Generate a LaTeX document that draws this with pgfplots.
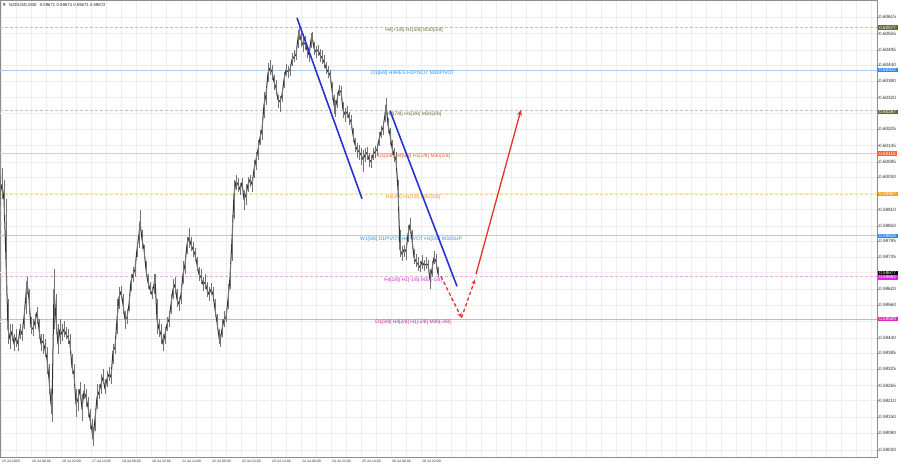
\documentclass[border=0pt]{standalone}
\usepackage{pgfplots}
\pgfplotsset{compat=1.18}
\usepackage{pgfplotstable}
\usepackage{fontspec}
\setmainfont{Liberation Sans}
\usetikzlibrary{arrows.meta}

\definecolor{gridc}{RGB}{238,238,238}
\definecolor{lvlOlive}{RGB}{200,195,165}
\definecolor{txtOlive}{RGB}{110,110,55}
\definecolor{boxOlive}{RGB}{95,105,50}
\definecolor{lvlBlue}{RGB}{170,205,238}
\definecolor{txtBlue}{RGB}{50,140,220}
\definecolor{boxBlue}{RGB}{40,140,245}
\definecolor{lvlGray}{RGB}{195,195,180}
\definecolor{lvlSalmon}{RGB}{242,198,178}
\definecolor{txtOrRed}{RGB}{230,90,40}
\definecolor{boxOrRed}{RGB}{250,100,50}
\definecolor{lvlOrange}{RGB}{246,212,155}
\definecolor{txtOrange}{RGB}{240,150,30}
\definecolor{boxOrange}{RGB}{250,160,30}
\definecolor{lvlBlue2}{RGB}{175,205,236}
\definecolor{lvlMag}{RGB}{228,170,228}
\definecolor{txtMag}{RGB}{210,40,210}
\definecolor{boxMag}{RGB}{235,30,235}
\definecolor{lvlPurp}{RGB}{205,180,215}
\definecolor{txtPurp}{RGB}{180,40,150}
\definecolor{boxPurp}{RGB}{220,40,190}
\definecolor{trendBlue}{RGB}{40,50,210}
\definecolor{arrRed}{RGB}{230,50,45}
\definecolor{candle}{RGB}{50,50,50}
\definecolor{wick}{RGB}{115,115,115}

\pgfplotstableread{
x c h l
0 0.59965 0.60038 0.59928
2 0.60002 0.60064 0.59947
4 0.59947 0.60020 0.59892
6 0.59727 0.59947 0.59618
8 0.59472 0.59581 0.59417
10 0.59435 0.59490 0.59398
12 0.59464 0.59490 0.59428
14 0.59417 0.59453 0.59391
16 0.59442 0.59472 0.59406
18 0.59417 0.59442 0.59391
20 0.59472 0.59490 0.59435
22 0.59453 0.59479 0.59428
24 0.59515 0.59545 0.59472
26 0.59599 0.59636 0.59526
27 0.59647 0.59662 0.59599
29 0.59581 0.59618 0.59526
31 0.59479 0.59515 0.59453
33 0.59472 0.59508 0.59446
35 0.59501 0.59526 0.59472
37 0.59534 0.59552 0.59490
39 0.59472 0.59508 0.59435
41 0.59417 0.59453 0.59391
43 0.59428 0.59453 0.59380
45 0.59398 0.59435 0.59369
47 0.59362 0.59406 0.59307
49 0.59289 0.59344 0.59234
51 0.59197 0.59252 0.59161
52 0.59179 0.59234 0.59132
54 0.59618 0.59691 0.59472
56 0.59508 0.59599 0.59453
58 0.59417 0.59490 0.59380
60 0.59472 0.59508 0.59417
62 0.59453 0.59490 0.59428
64 0.59472 0.59501 0.59442
66 0.59453 0.59479 0.59435
68 0.59442 0.59472 0.59417
70 0.59417 0.59453 0.59391
72 0.59333 0.59380 0.59307
74 0.59307 0.59344 0.59270
76 0.59197 0.59252 0.59150
78 0.59216 0.59252 0.59172
80 0.59252 0.59278 0.59216
82 0.59179 0.59234 0.59135
84 0.59245 0.59270 0.59216
86 0.59223 0.59252 0.59186
88 0.59186 0.59223 0.59150
90 0.59142 0.59179 0.59106
92 0.59099 0.59142 0.59069
93 0.59069 0.59113 0.59044
95 0.59142 0.59179 0.59099
97 0.59223 0.59270 0.59179
99 0.59241 0.59270 0.59216
101 0.59270 0.59307 0.59234
103 0.59296 0.59325 0.59270
105 0.59252 0.59289 0.59234
107 0.59289 0.59318 0.59260
109 0.59307 0.59333 0.59281
111 0.59296 0.59325 0.59270
113 0.59391 0.59417 0.59344
115 0.59406 0.59435 0.59380
117 0.59508 0.59581 0.59453
119 0.59589 0.59625 0.59545
121 0.59610 0.59629 0.59581
123 0.59563 0.59599 0.59526
125 0.59508 0.59537 0.59472
127 0.59515 0.59545 0.59490
129 0.59563 0.59592 0.59537
131 0.59647 0.59673 0.59610
133 0.59673 0.59698 0.59643
135 0.59691 0.59720 0.59662
137 0.59764 0.59793 0.59735
139 0.59819 0.59855 0.59771
140 0.59866 0.59910 0.59830
142 0.59801 0.59837 0.59764
144 0.59764 0.59782 0.59735
146 0.59691 0.59720 0.59662
148 0.59643 0.59673 0.59618
150 0.59618 0.59643 0.59599
152 0.59599 0.59625 0.59581
154 0.59636 0.59673 0.59599
155 0.59662 0.59673 0.59636
157 0.59508 0.59581 0.59453
159 0.59472 0.59508 0.59442
161 0.59453 0.59490 0.59417
163 0.59417 0.59453 0.59391
165 0.59453 0.59479 0.59417
167 0.59490 0.59515 0.59464
169 0.59508 0.59537 0.59479
171 0.59563 0.59599 0.59526
173 0.59618 0.59654 0.59581
175 0.59636 0.59662 0.59599
177 0.59581 0.59618 0.59552
179 0.59563 0.59589 0.59537
181 0.59599 0.59636 0.59563
183 0.59673 0.59720 0.59636
185 0.59709 0.59735 0.59673
187 0.59782 0.59808 0.59746
189 0.59808 0.59844 0.59771
191 0.59782 0.59808 0.59757
193 0.59764 0.59790 0.59735
195 0.59746 0.59771 0.59720
197 0.59709 0.59735 0.59684
199 0.59673 0.59698 0.59647
201 0.59662 0.59691 0.59636
203 0.59636 0.59662 0.59610
205 0.59643 0.59673 0.59618
207 0.59618 0.59643 0.59589
209 0.59599 0.59625 0.59574
211 0.59618 0.59640 0.59596
213 0.59599 0.59625 0.59581
215 0.59545 0.59581 0.59515
217 0.59497 0.59526 0.59472
219 0.59442 0.59472 0.59417
220 0.59424 0.59453 0.59406
222 0.59472 0.59508 0.59442
224 0.59508 0.59537 0.59479
226 0.59515 0.59545 0.59497
228 0.59581 0.59636 0.59545
230 0.59662 0.59709 0.59618
232 0.59801 0.59892 0.59720
234 0.59965 0.60020 0.59874
236 0.60013 0.60035 0.59983
238 0.60002 0.60027 0.59976
240 0.59983 0.60009 0.59965
242 0.60009 0.60027 0.59983
244 0.59947 0.59983 0.59910
246 0.59965 0.60002 0.59928
248 0.60002 0.60031 0.59976
250 0.60020 0.60038 0.59991
252 0.60002 0.60027 0.59976
254 0.60056 0.60093 0.60027
256 0.60093 0.60122 0.60056
258 0.60130 0.60166 0.60093
260 0.60173 0.60203 0.60148
262 0.60203 0.60239 0.60166
264 0.60294 0.60342 0.60247
266 0.60331 0.60356 0.60294
268 0.60411 0.60448 0.60378
270 0.60429 0.60459 0.60404
272 0.60415 0.60440 0.60385
274 0.60378 0.60404 0.60349
276 0.60356 0.60385 0.60331
278 0.60312 0.60331 0.60283
280 0.60305 0.60327 0.60268
282 0.60331 0.60356 0.60305
284 0.60385 0.60415 0.60356
286 0.60422 0.60444 0.60400
288 0.60415 0.60437 0.60393
290 0.60422 0.60444 0.60400
292 0.60459 0.60484 0.60437
294 0.60470 0.60495 0.60451
296 0.60477 0.60502 0.60459
298 0.60539 0.60568 0.60502
299 0.60561 0.60579 0.60532
301 0.60532 0.60557 0.60506
303 0.60513 0.60539 0.60488
305 0.60521 0.60546 0.60495
307 0.60495 0.60513 0.60466
309 0.60477 0.60502 0.60451
311 0.60532 0.60557 0.60502
312 0.60546 0.60561 0.60524
314 0.60502 0.60524 0.60477
316 0.60488 0.60510 0.60466
318 0.60495 0.60513 0.60473
320 0.60477 0.60499 0.60451
322 0.60466 0.60495 0.60444
324 0.60451 0.60477 0.60429
326 0.60429 0.60451 0.60407
328 0.60415 0.60437 0.60393
330 0.60404 0.60422 0.60378
332 0.60349 0.60378 0.60312
334 0.60294 0.60331 0.60261
335 0.60276 0.60312 0.60250
337 0.60312 0.60342 0.60283
339 0.60349 0.60367 0.60327
341 0.60342 0.60364 0.60320
343 0.60276 0.60305 0.60247
345 0.60258 0.60283 0.60232
347 0.60268 0.60290 0.60247
349 0.60247 0.60268 0.60221
351 0.60232 0.60258 0.60210
353 0.60184 0.60210 0.60159
355 0.60148 0.60173 0.60122
357 0.60130 0.60155 0.60100
359 0.60122 0.60148 0.60093
361 0.60111 0.60137 0.60075
363 0.60093 0.60130 0.60046
365 0.60111 0.60137 0.60086
367 0.60119 0.60141 0.60093
369 0.60093 0.60119 0.60067
371 0.60086 0.60111 0.60064
373 0.60111 0.60137 0.60093
375 0.60122 0.60144 0.60100
377 0.60130 0.60151 0.60108
379 0.60166 0.60195 0.60144
381 0.60195 0.60217 0.60173
383 0.60210 0.60232 0.60184
385 0.60258 0.60294 0.60232
386 0.60294 0.60320 0.60258
388 0.60221 0.60247 0.60192
390 0.60184 0.60210 0.60148
392 0.60137 0.60166 0.60111
394 0.60111 0.60137 0.60086
396 0.60093 0.60122 0.60064
398 0.59983 0.60020 0.59921
400 0.59764 0.59837 0.59735
402 0.59746 0.59775 0.59720
404 0.59764 0.59782 0.59735
406 0.59757 0.59779 0.59727
408 0.59819 0.59855 0.59790
410 0.59855 0.59881 0.59819
412 0.59801 0.59837 0.59764
414 0.59735 0.59764 0.59709
416 0.59720 0.59746 0.59698
418 0.59709 0.59735 0.59684
420 0.59698 0.59720 0.59680
422 0.59720 0.59742 0.59691
424 0.59706 0.59727 0.59684
426 0.59709 0.59735 0.59691
428 0.59709 0.59727 0.59684
430 0.59654 0.59691 0.59618
432 0.59691 0.59720 0.59662
434 0.59735 0.59757 0.59709
436 0.59720 0.59746 0.59691
438 0.59673 0.59698 0.59662
}\candles

\newcommand{\lvlfont}{\fontsize{5}{6}\selectfont}
\newcommand{\boxfont}{\fontsize{4.6}{5}\selectfont}

\begin{document}
\begin{tikzpicture}
\path[use as bounding box] (0pt,-11pt) rectangle (899pt,457pt);
\begin{axis}[
  at={(0pt,0pt)}, anchor=south west,
  width=877pt, height=457pt, scale only axis,
  xmin=0, xmax=877, ymin=0.590035, ymax=0.60678,
  clip=false,
  axis line style={draw=black!45, line width=0.6pt},
  ytick pos=right, yticklabel pos=right,
  xtick pos=bottom,
  tick align=outside,
  major tick length=1.5pt, minor tick length=0pt,
  tick style={black!45, line width=0.4pt},
  ytick={0.60615,0.60555,0.60495,0.60440,0.60380,0.60320,0.60205,0.60145,0.60085,0.60030,0.59910,0.59850,0.59795,0.59735,0.59620,0.59560,0.59440,0.59385,0.59325,0.59265,0.59210,0.59150,0.59090,0.59030},
  yticklabels={0.60615,0.60555,0.60495,0.60440,0.60380,0.60320,0.60205,0.60145,0.60085,0.60030,0.59910,0.59850,0.59795,0.59735,0.59620,0.59560,0.59440,0.59385,0.59325,0.59265,0.59210,0.59150,0.59090,0.59030},
  extra y ticks={0.60265,0.59970,0.59680,0.59500},
  extra y tick labels={},
  extra y tick style={grid=major, major tick length=0pt},
  yticklabel style={font=\boxfont, text=black!85, anchor=west, inner sep=0.5pt},
  xtick={1.5,31.5,...,421.5},
  xticklabels={15 Jul 2025,16 Jul 06:00,16 Jul 22:00,17 Jul 14:00,18 Jul 06:00,18 Jul 22:00,21 Jul 14:00,22 Jul 06:00,22 Jul 22:00,23 Jul 14:00,24 Jul 06:00,24 Jul 22:00,25 Jul 14:00,28 Jul 06:00,28 Jul 22:00},
  xticklabel style={font=\fontsize{3.4}{4}\selectfont, text=black!85, anchor=north west, inner sep=0.5pt, yshift=-0.5pt},
  minor xtick={16.5,46.5,...,436.5,451.5,466.5,...,871.5},
  grid=both,
  major grid style={draw=gridc, line width=0.4pt},
  minor grid style={draw=gridc, line width=0.4pt},
]
% level lines
\addplot[lvlOlive, line width=0.6pt, dash pattern=on 3pt off 2pt] coordinates {(0,0.60578) (877,0.60578)};
\addplot[lvlBlue, line width=0.6pt] coordinates {(0,0.60422) (877,0.60422)};
\addplot[lvlGray, line width=0.6pt, dash pattern=on 3pt off 2pt] coordinates {(0,0.60272) (877,0.60272)};
\addplot[lvlSalmon, line width=0.6pt] coordinates {(0,0.60116) (877,0.60116)};
\addplot[lvlOrange, line width=0.6pt, dash pattern=on 3pt off 2pt] coordinates {(0,0.59967) (877,0.59967)};
\addplot[lvlBlue2, line width=0.6pt] coordinates {(0,0.59814) (877,0.59814)};
\addplot[lvlMag, line width=0.6pt, dash pattern=on 3pt off 2pt] coordinates {(0,0.59664) (877,0.59664)};
\addplot[lvlPurp, line width=0.6pt] coordinates {(0,0.59509) (877,0.59509)};

% level texts
\node[anchor=north, inner sep=0.6pt, text=txtOlive, font=\lvlfont] at (axis cs:414,0.60578) {H4[+1/8] H1[5/8] M30[5/8]};
\node[anchor=north, inner sep=0.6pt, text=txtBlue, font=\lvlfont] at (axis cs:413,0.60422) {D1[6/8] H4RES H1PIVOT M30PIVOT};
\node[anchor=north, inner sep=0.6pt, text=txtOlive, font=\lvlfont] at (axis cs:414,0.60272) {H4[7/8] H1[3/8] M30[3/8]};
\node[anchor=north, inner sep=0.6pt, text=txtOrRed, font=\lvlfont] at (axis cs:414,0.60116) {D1[5/8] H4[6/8] H1[2/8] M30[2/8]};
\node[anchor=north, inner sep=0.6pt, text=txtOrange, font=\lvlfont] at (axis cs:413,0.59967) {H4[5/8] H1[1/8] M30[1/8]};
\node[anchor=north, inner sep=0.6pt, text=txtBlue, font=\lvlfont] at (axis cs:411,0.59814) {W1[5/8] D1PIVOT H4PIVOT H1[0/8] M30SUP};
\node[anchor=north, inner sep=0.6pt, text=txtMag, font=\lvlfont] at (axis cs:413,0.59664) {H4[3/8] H1[-1/8] M30[-1/8]};
\node[anchor=north, inner sep=0.6pt, text=txtPurp, font=\lvlfont] at (axis cs:413,0.59509) {D1[3/8] H4[2/8] H1[-2/8] M30[-2/8]};

% price series (high-low ranges and closes)
\addplot[candle, line width=1pt, mark=none, line join=round,
  error bars/.cd, y dir=both, y explicit, error mark=none,
  error bar style={wick, line width=0.8pt}]
  table[x=x, y=c, y error plus expr=\thisrow{h}-\thisrow{c}, y error minus expr=\thisrow{c}-\thisrow{l}] {\candles};

% trend lines
\addplot[trendBlue, line width=1.6pt] coordinates {(297,0.60612) (362,0.59950)};
\addplot[trendBlue, line width=1.6pt] coordinates {(390,0.60272) (457,0.59629)};

% projected path
\addplot[arrRed, line width=1.3pt, dash pattern=on 3.5pt off 2.5pt, -{Stealth[length=5pt,width=4.5pt]}] coordinates {(441,0.59665) (461.5,0.59514)};
\addplot[arrRed, line width=1.3pt, dash pattern=on 3.5pt off 2.5pt, -{Stealth[length=5pt,width=4.5pt]}] coordinates {(461.5,0.59514) (475,0.59654)};
\addplot[arrRed, line width=1.3pt, -{Stealth[length=6pt,width=5pt]}] coordinates {(476,0.59673) (521,0.60276)};

% price boxes on the scale
\node[anchor=west, fill=boxOlive, text=white, font=\boxfont, inner xsep=1.7pt, inner ysep=0.6pt] at (axis cs:877.5,0.60577) {0.60577};
\node[anchor=west, fill=boxBlue, text=white, font=\boxfont, inner xsep=1.7pt, inner ysep=0.6pt] at (axis cs:877.5,0.60422) {0.60422};
\node[anchor=west, fill=boxOlive, text=white, font=\boxfont, inner xsep=1.7pt, inner ysep=0.6pt] at (axis cs:877.5,0.60267) {0.60267};
\node[anchor=west, fill=boxOrRed, text=white, font=\boxfont, inner xsep=1.7pt, inner ysep=0.6pt] at (axis cs:877.5,0.60115) {0.60115};
\node[anchor=west, fill=boxOrange, text=white, font=\boxfont, inner xsep=1.7pt, inner ysep=0.6pt] at (axis cs:877.5,0.59967) {0.59967};
\node[anchor=west, fill=boxBlue, text=white, font=\boxfont, inner xsep=1.7pt, inner ysep=0.6pt] at (axis cs:877.5,0.59814) {0.59814};
\node[anchor=west, fill=boxMag, text=white, font=\boxfont, inner xsep=1.7pt, inner ysep=0.6pt] at (axis cs:877.5,0.59662) {0.59662};
\node[anchor=west, fill=black, text=white, font=\boxfont, inner xsep=1.7pt, inner ysep=0.6pt] at (axis cs:877.5,0.59677) {0.59677};
\node[anchor=west, fill=boxPurp, text=white, font=\boxfont, inner xsep=1.7pt, inner ysep=0.6pt] at (axis cs:877.5,0.59509) {0.59509};

% header
\node[anchor=north west, inner sep=0pt, font=\fontsize{4.3}{5}\selectfont, text=black!85] at ([xshift=2pt,yshift=-3pt]rel axis cs:0,1) {▼\hspace{1.5pt} NZDUSD,M30\hspace{2pt} 0.59671 0.59674 0.59671 0.59672};
\end{axis}
\end{tikzpicture}
\end{document}
